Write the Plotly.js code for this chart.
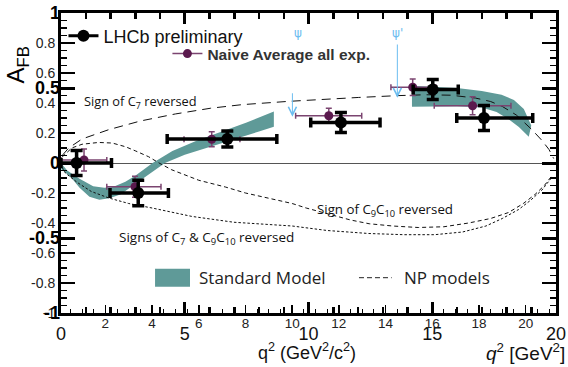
<!DOCTYPE html>
<html>
<head>
<meta charset="utf-8">
<script src="https://cdn.plot.ly/plotly-3.0.1.min.js"></script>
<style>html,body{margin:0;padding:0;background:#fff;}#chart{width:568px;height:367px;}</style>
</head>
<body>
<div id="chart"></div>
<script>
// ---- LHCb preliminary (q2 in GeV^2/c^2, axis 0..20) ----
const lhcbQ      = [0.63, 3.12, 6.72, 11.31, 15.02, 17.09];
const lhcbQMinus = [0.63, 1.14, 2.43, 1.22, 0.79, 1.10];
const lhcbQPlus  = [1.41, 1.22, 2.00, 1.58, 1.03, 1.97];
const lhcbA      = [0.00, -0.20, 0.16, 0.27, 0.49, 0.30];
const lhcbAErr   = [0.083, 0.085, 0.054, 0.066, 0.067, 0.083];

// ---- Naive average of all experiments ----
const avgQ      = [0.93, 2.99, 6.09, 10.82, 14.21, 16.63];
const avgQMinus = [0.93, 1.14, 1.12, 1.34, 0.88, 1.55];
const avgQPlus  = [0.92, 1.05, 1.14, 1.33, 0.94, 1.55];
const avgA      = [0.02, -0.158, 0.158, 0.315, 0.505, 0.382];
const avgAErr   = [0.073, 0.070, 0.050, 0.050, 0.055, 0.060];

// ---- Standard Model band (low and high q2) ----
const smLowUpperQ = [0, 0.25, 0.75, 1.3, 1.75, 2.1, 2.6, 3.0, 3.7, 4.5, 5.5, 6.5, 7.5, 8.6];
const smLowUpperA = [0.0, -0.05, -0.105, -0.155, -0.165, -0.16, -0.125, -0.085, 0.0, 0.08, 0.15, 0.21, 0.27, 0.344];
const smLowLowerQ = [0, 0.4, 0.75, 1.15, 1.55, 1.95, 2.4, 3.0, 3.6, 4.2, 5.0, 6.0, 7.0, 8.0, 8.6];
const smLowLowerA = [-0.04, -0.095, -0.165, -0.225, -0.245, -0.235, -0.21, -0.14, -0.07, 0.0, 0.055, 0.11, 0.16, 0.21, 0.242];
const smHighUpperQ = [14.18, 15.0, 16.0, 17.0, 17.8, 18.3, 18.7, 19.0];
const smHighUpperA = [0.515, 0.51, 0.50, 0.48, 0.455, 0.42, 0.36, 0.25];
const smHighLowerQ = [14.18, 16.0, 17.0, 17.6, 18.1, 18.5, 18.9];
const smHighLowerA = [0.375, 0.378, 0.37, 0.34, 0.29, 0.24, 0.175];

// ---- NP models (q2 in GeV^2, axis 0.1..21.3) ----
const npC7Q = [0.15, 0.43, 1.0, 2.14, 3.5, 5.0, 6.5, 7.85, 9.85, 11.5, 12.85, 14.5, 15.7, 16.8, 17.85, 18.5, 19.0, 19.6, 20.27, 20.7, 21.0, 21.2];
const npC7A = [0.05, 0.10, 0.16, 0.222, 0.28, 0.327, 0.365, 0.389, 0.411, 0.427, 0.437, 0.449, 0.455, 0.452, 0.433, 0.41, 0.377, 0.32, 0.222, 0.15, 0.09, 0.03];
const npC910Q = [0.15, 0.56, 1.0, 1.71, 2.3, 2.87, 3.3, 3.85, 4.3, 4.84, 6.0, 7.14, 8.0, 9.0, 10.0, 10.6, 11.5, 12.5, 13.3, 14.3, 15.4, 16.5, 17.56, 18.5, 19.27, 19.9, 20.4, 20.8, 21.1];
const npC910A = [0.04, 0.10, 0.125, 0.137, 0.133, 0.108, 0.08, 0.042, 0.0, -0.045, -0.115, -0.16, -0.2, -0.235, -0.27, -0.30, -0.34, -0.38, -0.405, -0.42, -0.43, -0.425, -0.40, -0.37, -0.33, -0.27, -0.21, -0.15, -0.09];
const npBothQ = [0.15, 0.29, 0.8, 1.4, 2.14, 3.0, 4.0, 5.7, 7.5, 10.0, 11.5, 13.28, 14.8, 16.1, 17.3, 18.3, 19.0, 19.7, 20.2, 20.7, 21.1];
const npBothA = [-0.03, -0.067, -0.13, -0.19, -0.233, -0.27, -0.30, -0.356, -0.395, -0.42, -0.45, -0.47, -0.478, -0.478, -0.46, -0.42, -0.37, -0.31, -0.25, -0.18, -0.1];

// ---- resonance markers ----
const psiNames  = ['ψ', "ψ'"];
const psiLabelQ = [9.59, 13.59];
const psiArrowQ = [9.35, 13.59];
const psiTipA   = [0.309, 0.435];
const psiTailA  = [0.475, 0.80];

// ---- tick labels ----
const yThinVals = [-1, -0.8, -0.6, -0.4, -0.2, 0, 0.2, 0.4, 0.6, 0.8, 1];
const yThinText = ['-1', '-0.8', '-0.6', '-0.4', '-0.2', '', '0.2', '0.4', '0.6', '0.8', ''];
const yBoldVals = [-1, -0.5, 0, 0.5, 1];
const yBoldText = ['-1', '-0.5', '0', '0.5', '1'];
const xBigVals  = [0, 5, 10, 15, 20];

const teal = '#5f9a98';
const purple = '#5b1a4e';
const purpleBar = '#7b4470';
const blue = '#6cbdf0';

function band(uq, ua, lq, la) {
  return {x: uq.concat(lq.slice().reverse()), y: ua.concat(la.slice().reverse())};
}
const bLow = band(smLowUpperQ, smLowUpperA, smLowLowerQ, smLowLowerA);
const bHigh = band(smHighUpperQ, smHighUpperA, smHighLowerQ, smHighLowerA);

const traces = [
  {x: bLow.x, y: bLow.y, xaxis: 'x', yaxis: 'y', type: 'scatter', mode: 'lines', fill: 'toself',
   fillcolor: teal, line: {width: 0, color: teal}, showlegend: false, hoverinfo: 'skip'},
  {x: bHigh.x, y: bHigh.y, xaxis: 'x', yaxis: 'y', type: 'scatter', mode: 'lines', fill: 'toself',
   fillcolor: teal, line: {width: 0, color: teal}, showlegend: false, hoverinfo: 'skip'},
  {x: [null], y: [null], xaxis: 'x', yaxis: 'y2', type: 'scatter', mode: 'markers', showlegend: false},
  {x: npC7Q, y: npC7A, xaxis: 'x2', yaxis: 'y', type: 'scatter', mode: 'lines',
   line: {color: '#111', width: 1, dash: '9px,6px'}, showlegend: false},
  {x: npC910Q, y: npC910A, xaxis: 'x2', yaxis: 'y', type: 'scatter', mode: 'lines',
   line: {color: '#111', width: 1, dash: '4px,3px'}, showlegend: false},
  {x: npBothQ, y: npBothA, xaxis: 'x2', yaxis: 'y', type: 'scatter', mode: 'lines',
   line: {color: '#111', width: 1, dash: '2.5px,2px'}, showlegend: false},
  {x: avgQ, y: avgA, xaxis: 'x3', yaxis: 'y', type: 'scatter', mode: 'markers',
   marker: {size: 9, color: purple},
   error_x: {type: 'data', symmetric: false, array: avgQPlus, arrayminus: avgQMinus, color: purpleBar, thickness: 1.5, width: 3},
   error_y: {type: 'data', array: avgAErr, color: purpleBar, thickness: 1.5, width: 3},
   showlegend: false},
  {x: lhcbQ, y: lhcbA, xaxis: 'x3', yaxis: 'y', type: 'scatter', mode: 'markers',
   marker: {size: 12, color: '#000'},
   error_x: {type: 'data', symmetric: false, array: lhcbQPlus, arrayminus: lhcbQMinus, color: '#000', thickness: 3.5, width: 5},
   error_y: {type: 'data', array: lhcbAErr, color: '#000', thickness: 3.5, width: 6},
   showlegend: false},
  // legend entries
  {x: [null], y: [null], xaxis: 'x3', yaxis: 'y', type: 'scatter', mode: 'lines+markers', name: 'LHCb preliminary',
   line: {color: '#000', width: 3}, marker: {size: 12, color: '#000'}, legend: 'legend'},
  {x: [null], y: [null], xaxis: 'x3', yaxis: 'y', type: 'scatter', mode: 'lines+markers', name: '<b>Naive Average all exp.</b>',
   line: {color: purpleBar, width: 1.5}, marker: {size: 9, color: purple}, legend: 'legend2'}
];

const annotations = [
  {xref: 'paper', yref: 'paper', x: -0.087, y: 0.828, xanchor: 'center', yanchor: 'middle', text: 'A<sub>FB</sub>', textangle: -90, showarrow: false,
   font: {family: 'Liberation Sans', size: 24, color: '#000'}},
  {xref: 'x', yref: 'y', x: 0.85, y: 0.405, xanchor: 'left', yanchor: 'middle', text: 'Sign of C<sub>7</sub> reversed', showarrow: false,
   font: {family: 'Open Sans', size: 12.8, color: '#111'}},
  {xref: 'x', yref: 'y', x: 10.26, y: -0.315, xanchor: 'left', yanchor: 'middle', text: 'Sign of C<sub>9</sub>C<sub>10</sub> reversed', showarrow: false,
   font: {family: 'Open Sans', size: 13.3, color: '#111'}},
  {xref: 'x', yref: 'y', x: 2.26, y: -0.50, xanchor: 'left', yanchor: 'middle', text: 'Signs of C<sub>7</sub> &amp; C<sub>9</sub>C<sub>10</sub> reversed', showarrow: false,
   font: {family: 'Open Sans', size: 13.5, color: '#111'}},
  {xref: 'paper', yref: 'paper', x: 0.2747, y: 0.1177, xanchor: 'left', yanchor: 'middle', text: 'Standard Model', showarrow: false,
   font: {family: 'Open Sans', size: 17, color: '#222'}},
  {xref: 'paper', yref: 'paper', x: 0.6885, y: 0.1177, xanchor: 'left', yanchor: 'middle', text: 'NP models', showarrow: false,
   font: {family: 'Open Sans', size: 17, color: '#222'}},
  {xref: 'paper', yref: 'paper', x: 0.496, y: -0.13, xanchor: 'center', yanchor: 'middle', text: 'q<sup>2</sup> (GeV<sup>2</sup>/c<sup>2</sup>)', showarrow: false,
   font: {family: 'Liberation Sans', size: 18, color: '#111'}},
  {xref: 'paper', yref: 'paper', x: 1.022, y: -0.13, xanchor: 'right', yanchor: 'middle', text: '<i>q</i><sup>2</sup> [GeV<sup>2</sup>]', showarrow: false,
   font: {family: 'Liberation Sans', size: 19, color: '#111'}}
];
for (let i = 0; i < psiNames.length; i++) {
  annotations.push({xref: 'x', yref: 'paper', x: psiLabelQ[i], y: 0.934, xanchor: 'center', yanchor: 'middle', text: psiNames[i], showarrow: false,
    font: {family: 'DejaVu Sans', size: 12, color: blue}});
  annotations.push({xref: 'x', yref: 'y', axref: 'x', ayref: 'y', x: psiArrowQ[i], y: psiTipA[i], ax: psiArrowQ[i], ay: psiTailA[i],
    text: '', showarrow: true, arrowhead: 5, arrowsize: 1.6, arrowwidth: 1, arrowcolor: blue, standoff: 0});
}

const shapes = [
  {type: 'rect', xref: 'paper', yref: 'paper', x0: 0.19, x1: 0.2606, y0: 0.0877, y1: 0.1477, fillcolor: teal, line: {width: 0}},
  {type: 'line', xref: 'paper', yref: 'paper', x0: 0.602, x1: 0.668, y0: 0.1177, y1: 0.1177, line: {color: '#222', width: 1, dash: '5px,3px'}}
];

const layout = {
  width: 568, height: 367,
  margin: {l: 61, r: 12, t: 13, b: 54},
  paper_bgcolor: '#fff', plot_bgcolor: '#fff',
  showlegend: true,
  legend: {x: 0.005, y: 0.985, xanchor: 'left', yanchor: 'top', bgcolor: 'rgba(0,0,0,0)', itemwidth: 30,
           font: {family: 'Liberation Sans', size: 18, color: '#111'}},
  legend2: {x: 0.215, y: 0.92, xanchor: 'left', yanchor: 'top', bgcolor: 'rgba(0,0,0,0)', itemwidth: 30,
           font: {family: 'Liberation Sans', size: 15.5, color: '#333'}},
  xaxis: {range: [0, 20], showgrid: false, zeroline: false, showline: true, linewidth: 3, linecolor: '#000', mirror: 'ticks',
          ticks: 'inside', tickvals: xBigVals, ticktext: xBigVals.map(String), ticklen: 11, tickwidth: 3, tickcolor: '#000',
          tickfont: {family: 'Liberation Sans', size: 18, color: '#111'}, ticklabelstandoff: 2,
          minor: {dtick: 1, tick0: 0, ticks: 'inside', ticklen: 6, tickwidth: 2.5, tickcolor: '#000', showgrid: false}},
  xaxis2: {overlaying: 'x', side: 'bottom', anchor: 'y', range: [0.1, 21.3], showgrid: false, zeroline: false, showline: false,
          ticks: 'inside', tickmode: 'linear', tick0: 0, dtick: 2, ticklen: 8, tickwidth: 1.5, tickcolor: '#000',
          tickfont: {family: 'Liberation Sans', size: 13.5, color: '#222'},
          minor: {dtick: 0.5, tick0: 0, ticks: 'inside', ticklen: 4, tickwidth: 1, tickcolor: '#000', showgrid: false}},
  xaxis3: {overlaying: 'x', range: [0, 20], showgrid: false, zeroline: false, showline: false, ticks: '', showticklabels: false},
  yaxis: {range: [-1, 1], showgrid: false, zeroline: true, zerolinecolor: '#555', zerolinewidth: 1,
          showline: true, linewidth: 3, linecolor: '#000', mirror: 'ticks',
          ticks: 'inside', tickvals: yThinVals, ticktext: yThinText, ticklen: 14, tickwidth: 1.5, tickcolor: '#000',
          tickfont: {family: 'Liberation Sans', size: 14, color: '#222'},
          minor: {dtick: 0.05, tick0: 0, ticks: 'inside', ticklen: 6, tickwidth: 1.5, tickcolor: '#000', showgrid: false}},
  yaxis2: {overlaying: 'y', side: 'left', anchor: 'x', range: [-1, 1], showgrid: false, zeroline: false, showline: false, mirror: 'ticks',
          ticks: 'inside', tickvals: yBoldVals, ticktext: yBoldText, ticklen: 14, tickwidth: 3, tickcolor: '#000',
          tickfont: {family: 'Liberation Sans', size: 18, color: '#000', weight: 'bold'}},
  annotations: annotations,
  shapes: shapes
};

Plotly.newPlot('chart', traces, layout, {displayModeBar: false, staticPlot: true});
</script>
</body>
</html>
